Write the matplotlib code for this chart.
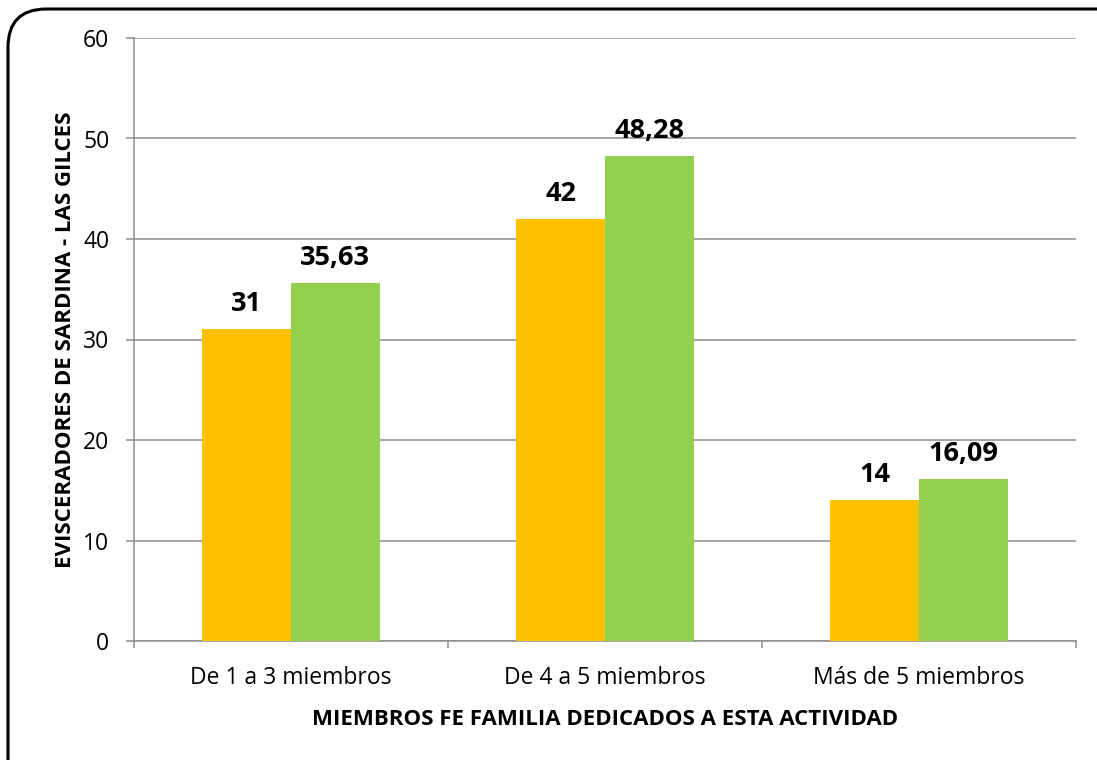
import numpy as np
import matplotlib
matplotlib.use("Agg")
import matplotlib.pyplot as plt
from matplotlib.patches import FancyBboxPatch

plt.rcParams["font.family"] = ["Open Sans", "DejaVu Sans"]

categorias = ["De 1 a 3 miembros", "De 4 a 5 miembros", "Más de 5 miembros"]
frecuencia = [31, 42, 14]
porcentaje = [35.63, 48.28, 16.09]
etiq_frec = ["31", "42", "14"]
etiq_porc = ["35,63", "48,28", "16,09"]
yticks = [0, 10, 20, 30, 40, 50, 60]

fig = plt.figure(figsize=(10.97, 7.6), dpi=100)
ax = fig.add_axes([134 / 1097, 119 / 760, 942 / 1097, 603 / 760])

# marco redondeado (solo se ven borde izquierdo y superior)
marco = FancyBboxPatch((8 / 1097, -0.5), 2, 1.5 - 9 / 760, transform=fig.transFigure,
                       boxstyle="round,pad=0,rounding_size=0.035",
                       fc="none", ec="black", lw=2.2, zorder=0,
                       mutation_aspect=1097 / 760)
fig.patches.append(marco)

x = np.arange(len(categorias))
w = 0.283
b1 = ax.bar(x - w / 2, frecuencia, w, color="#FFC000", zorder=3)
b2 = ax.bar(x + w / 2, porcentaje, w, color="#92D050", zorder=3)

for barras, etiquetas in [(b1, etiq_frec), (b2, etiq_porc)]:
    for rect, t in zip(barras, etiquetas):
        ax.text(rect.get_x() + rect.get_width() / 2, rect.get_height() + 1.8, t,
                ha="center", va="baseline", fontsize=19.5, fontweight="bold")

ax.set_xlim(-0.5, 2.5)
ax.set_ylim(0, 60)
ax.set_yticks(yticks)
ax.set_yticklabels([str(v) for v in yticks], fontsize=16.5)
ax.yaxis.grid(True, color="#8c8c8c", lw=1.1, zorder=0)
ax.set_axisbelow(True)

ax.set_xticks(x)
ax.set_xticklabels(categorias, fontsize=16.5)
ax.tick_params(axis="x", length=0, pad=18)
ax.set_xticks([-0.5, 0.5, 1.5, 2.5], minor=True)
ax.tick_params(axis="x", which="minor", length=5, color="#8c8c8c", width=1.1)
ax.tick_params(axis="y", length=5.8, color="#8c8c8c", width=1.1, pad=12)

for s in ["top", "right"]:
    ax.spines[s].set_visible(False)
for s in ["left", "bottom"]:
    ax.spines[s].set_color("#8c8c8c")
    ax.spines[s].set_linewidth(1.1)

ax.set_xlabel("MIEMBROS FE FAMILIA DEDICADOS A ESTA ACTIVIDAD", fontsize=16,
              fontweight="bold", labelpad=14)
ax.set_ylabel("EVISCERADORES DE SARDINA - LAS GILCES", fontsize=16,
              fontweight="bold", labelpad=5)

fig.savefig("out.png", dpi=100)
